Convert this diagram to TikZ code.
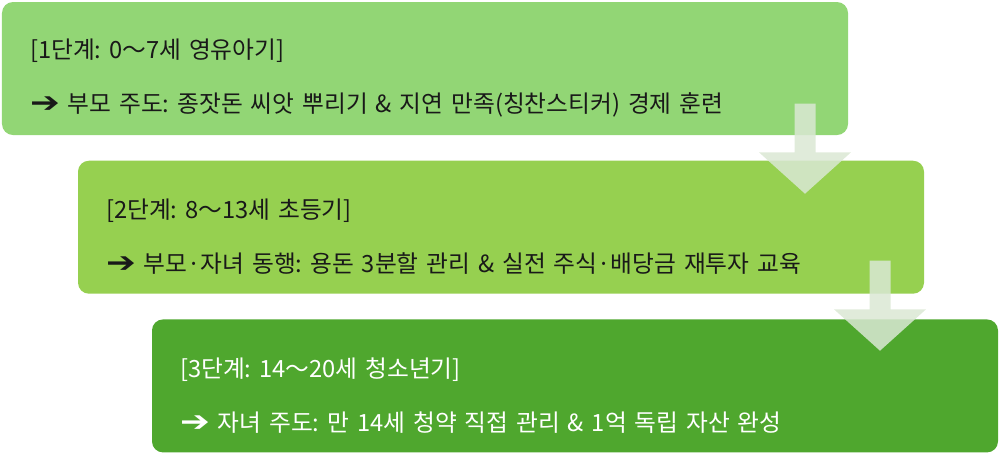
\documentclass[tikz,border=0pt]{standalone}
\usepackage{fontspec}
\setmainfont{Noto Sans CJK KR}
\newfontfamily\symfont{DejaVu Sans}
\usetikzlibrary{shapes.arrows, positioning}
\frenchspacing
\definecolor{stageOneFill}{RGB}{146,214,117}
\definecolor{stageTwoFill}{RGB}{150,208,80}
\definecolor{stageThreeFill}{RGB}{79,167,46}
\definecolor{stageText}{RGB}{25,25,25}
\definecolor{arrowFill}{RGB}{218,232,212}
\tikzset{
    objStage/.style={rectangle, rounded corners=0.22cm, minimum height=2.66cm, text width=15.8cm, inner xsep=0.56cm, align=left, text=stageText, font=\fontsize{13.5}{31}\selectfont},
    objDownArrow/.style={single arrow, shape border rotate=270, draw=none, fill=arrowFill, fill opacity=0.85, minimum height=1.8cm, minimum width=1.84cm, single arrow head extend=0.42cm, single arrow tip angle=96}
}
\newcommand{\stepArrow}{\scalebox{1.5}[1.2]{\symfont ➔}}
\newcommand{\stageStrut}{\rule{0pt}{22pt}}

\begin{document}
\begin{tikzpicture}
    \useasboundingbox (0,0) rectangle (20,-9.08);

    \node (stage1) [objStage, fill=stageOneFill] at (8.5,-1.37) {\stageStrut[1단계: 0～7세 영유아기]\\ \stepArrow\ 부모 주도: 종잣돈 씨앗 뿌리기 \& 지연 만족(칭찬스티커) 경제 훈련};
    \node (stage2) [objStage, fill=stageTwoFill, below=0.5cm of stage1, xshift=1.52cm] {\stageStrut[2단계: 8～13세 초등기]\\ \stepArrow\ 부모·자녀 동행: 용돈 3분할 관리 \& 실전 주식·배당금 재투자 교육};
    \node (stage3) [objStage, fill=stageThreeFill, text=white, below=0.5cm of stage2, xshift=1.48cm] {\stageStrut[3단계: 14～20세 청소년기]\\ \stepArrow\ 자녀 주도: 만 14세 청약 직접 관리 \& 1억 독립 자산 완성};

    \node (arr12) [objDownArrow] at (16.1,-2.88) {};
    \node (arr23) [objDownArrow] at (17.6,-6.02) {};

\end{tikzpicture}
\end{document}
